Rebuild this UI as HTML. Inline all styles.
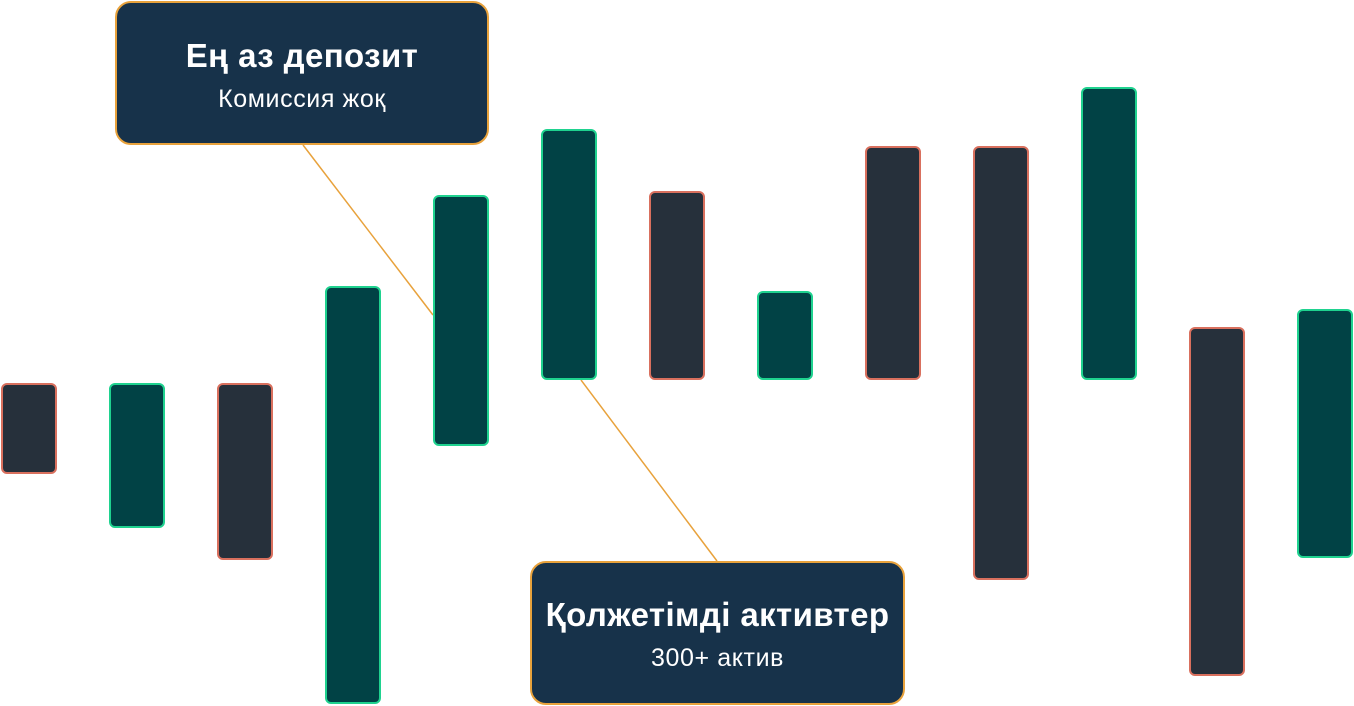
<!DOCTYPE html>
<html><head><meta charset="utf-8"><style>
html,body{margin:0;padding:0;background:#fff;width:1354px;height:706px;overflow:hidden;position:relative;font-family:"Liberation Sans",sans-serif}
.b{position:absolute;box-sizing:border-box;border-radius:6px;border:2px solid}
.g{background:#014245;border-color:#1fd28f}
.r{background:#26303b;border-color:#d9705e}
.c{position:absolute;box-sizing:border-box;background:#17324a;border:2px solid #e8a23c;border-radius:16px;color:#fff;text-align:center}
.c h{display:block;font-weight:bold;font-size:33px;line-height:40px;letter-spacing:0.4px}
.c s{display:block;text-decoration:none;font-size:25px;line-height:30px;margin-top:8px;letter-spacing:0.6px}
svg{position:absolute;left:0;top:0}
</style></head><body>
<svg width="1354" height="706"><line x1="303" y1="145" x2="433" y2="315" stroke="#e8a23c" stroke-width="1.5"/><line x1="581" y1="380" x2="717" y2="561" stroke="#e8a23c" stroke-width="1.5"/></svg>
<div class="b r" style="left:1px;top:383px;width:56px;height:91px"></div>
<div class="b g" style="left:109px;top:383px;width:56px;height:145px"></div>
<div class="b r" style="left:217px;top:383px;width:56px;height:177px"></div>
<div class="b g" style="left:325px;top:286px;width:56px;height:418px"></div>
<div class="b g" style="left:433px;top:195px;width:56px;height:251px"></div>
<div class="b g" style="left:541px;top:129px;width:56px;height:251px"></div>
<div class="b r" style="left:649px;top:191px;width:56px;height:189px"></div>
<div class="b g" style="left:757px;top:291px;width:56px;height:89px"></div>
<div class="b r" style="left:865px;top:146px;width:56px;height:234px"></div>
<div class="b r" style="left:973px;top:146px;width:56px;height:434px"></div>
<div class="b g" style="left:1081px;top:87px;width:56px;height:293px"></div>
<div class="b r" style="left:1189px;top:327px;width:56px;height:349px"></div>
<div class="b g" style="left:1297px;top:309px;width:56px;height:249px"></div>
<div class="c" style="left:115px;top:1px;width:374px;height:144px;padding-top:33px"><h>Ең аз депозит</h><s>Комиссия жоқ</s></div>
<div class="c" style="left:530px;top:561px;width:375px;height:144px;padding-top:32px"><h>Қолжетімді активтер</h><s>300+ актив</s></div>
</body></html>
